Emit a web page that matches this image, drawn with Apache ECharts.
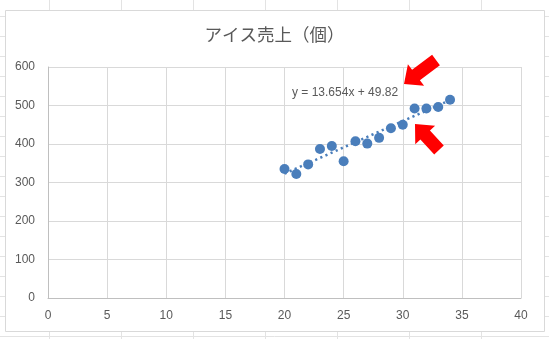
<!DOCTYPE html>
<html><head><meta charset="utf-8">
<script src="https://cdn.jsdelivr.net/npm/echarts@6/dist/echarts.min.js"></script>
<style>html,body{margin:0;padding:0;background:#fff}#c{width:549px;height:339px}</style>
</head><body><div id="c"></div>
<script>
// ---- data ----
const chartTitle = 'アイス売上（個）';
const temperature = [20, 21, 22, 23, 24, 25, 26, 27, 28, 29, 30, 31, 32, 33, 34];
const iceSales = [335, 322, 347, 387, 395, 355, 407, 401, 416, 441, 450, 492, 492, 496, 515];
const xAxisMin = 0, xAxisMax = 40, xAxisStep = 5;
const yAxisMin = 0, yAxisMax = 600, yAxisStep = 100;
const trendSlope = 13.654;
const trendIntercept = 49.82;
const trendFrom = 20, trendTo = 34;
const equationText = 'y = 13.654x + 49.82';

// ---- build ----
const points = temperature.map((t, i) => [t, iceSales[i]]);
const trend = [trendFrom, trendTo].map(x => [x, trendSlope * x + trendIntercept]);

const textColor = '#595959';
const blue = '#4a7ebb';

function arrow(tail, tip, shaftHalf, headHalf, headLen) {
  const dx = tip[0] - tail[0], dy = tip[1] - tail[1];
  const len = Math.hypot(dx, dy);
  const ux = dx / len, uy = dy / len, nx = -uy, ny = ux;
  const bx = tip[0] - ux * headLen, by = tip[1] - uy * headLen;
  return [
    [tail[0] + nx * shaftHalf, tail[1] + ny * shaftHalf],
    [bx + nx * shaftHalf, by + ny * shaftHalf],
    [bx + nx * headHalf, by + ny * headHalf],
    [tip[0], tip[1]],
    [bx - nx * headHalf, by - ny * headHalf],
    [bx - nx * shaftHalf, by - ny * shaftHalf],
    [tail[0] - nx * shaftHalf, tail[1] - ny * shaftHalf]
  ];
}

// spreadsheet background lines
const bg = [];
for (let y = 16; y < 339; y += 20) bg.push({type: 'line', z: -10, silent: true, shape: {x1: 0, y1: y + 0.5, x2: 549, y2: y + 0.5}, style: {stroke: '#e3e3e3', lineWidth: 1}});
for (let x = 49; x < 549; x += 72) bg.push({type: 'line', z: -10, silent: true, shape: {x1: x + 0.5, y1: 0, x2: x + 0.5, y2: 339}, style: {stroke: '#e3e3e3', lineWidth: 1}});
bg.push({type: 'rect', z: -5, silent: true, shape: {x: 5.5, y: 10.5, width: 539, height: 321}, style: {fill: '#ffffff', stroke: '#d9d9d9', lineWidth: 1}});

const chart = echarts.init(document.getElementById('c'), null, {renderer: 'canvas'});
chart.setOption({
  animation: false,
  backgroundColor: '#ffffff',
  title: {
    text: chartTitle, left: 'center', top: 26, padding: 0,
    textStyle: {fontFamily: '"Noto Sans CJK JP"', fontSize: 17.5, fontWeight: 'normal', color: textColor}
  },
  grid: {left: 48, top: 67, right: 28, bottom: 41, containLabel: false, outerBoundsMode: 'none'},
  xAxis: {
    type: 'value', min: xAxisMin, max: xAxisMax, interval: xAxisStep,
    axisLine: {show: true, onZero: false, lineStyle: {color: '#bfbfbf', width: 1}},
    axisTick: {show: false},
    splitLine: {show: true, lineStyle: {color: '#d9d9d9', width: 1}},
    axisLabel: {color: textColor, fontSize: 12, fontFamily: '"Liberation Sans"', margin: 12}
  },
  yAxis: {
    type: 'value', min: yAxisMin, max: yAxisMax, interval: yAxisStep,
    axisLine: {show: true, onZero: false, lineStyle: {color: '#bfbfbf', width: 1}},
    axisTick: {show: false},
    splitLine: {show: true, lineStyle: {color: '#d9d9d9', width: 1}},
    axisLabel: {color: textColor, fontSize: 12, fontFamily: '"Liberation Sans"', margin: 13}
  },
  series: [
    {
      type: 'line', data: trend, symbol: 'none', silent: true, z: 3,
      lineStyle: {color: blue, width: 2.5, type: [2.2, 3.4], cap: 'butt'}
    },
    {
      type: 'scatter', data: points, symbol: 'circle', symbolSize: 10, z: 4,
      itemStyle: {color: blue, opacity: 1}
    }
  ],
  graphic: bg.concat([
    {type: 'text', z: 50, left: 292, top: 87, style: {text: equationText, fill: textColor, font: '12px "Liberation Sans"'}},
    {type: 'polygon', z: 60, shape: {points: arrow([436, 60], [404, 84], 6.5, 13.5, 15)}, style: {fill: '#ff0000'}},
    {type: 'polygon', z: 60, shape: {points: arrow([439, 150], [415, 124], 6.5, 13.5, 15)}, style: {fill: '#ff0000'}}
  ])
});
</script>
</body></html>
